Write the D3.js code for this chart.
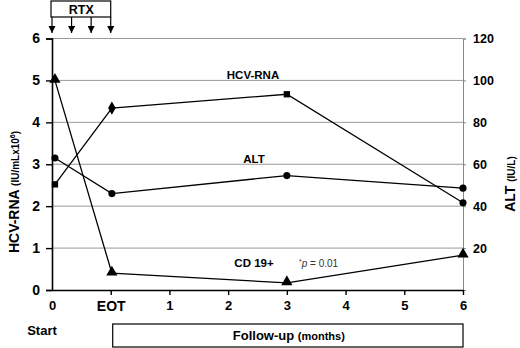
<!DOCTYPE html>
<html>
<head>
<meta charset="utf-8">
<script src="https://cdn.jsdelivr.net/npm/d3@7"></script>
<style>
  body { margin: 0; background: #fff; }
  svg { display: block; font-family: "Liberation Sans", Arial, sans-serif; }
</style>
</head>
<body>
<div id="chart"></div>
<script>
// x positions: 0 = start, 1 = EOT, then months 1..6 at 2..7
const xTickLabels = ["0", "EOT", "1", "2", "3", "4", "5", "6"];
const leftTicks = [0, 1, 2, 3, 4, 5, 6];
const rightTicks = [20, 40, 60, 80, 100, 120];
const timePoints = [0.05, 1.02, 4, 7];
const hcvRna = [2.52, 4.34, 4.67, 2.08];       // IU/mL x10^6 (left)
const hcvShapes = ["square", "diamond", "square", "circle"];
const alt = [63, 46, 54.6, 48.6];              // IU/L (right)
const cd19 = [100, 8, 3.4, 16.6];              // right axis
const rtxDoses = [0, 1 / 3, 2 / 3, 1];

const width = 520, height = 348;
const svg = d3.select('#chart').append('svg')
  .attr('width', width).attr('height', height);

const xScale = d3.scaleLinear().domain([0, 7]).range([52, 463]);
const yLeft = d3.scaleLinear().domain([0, 6]).range([290, 38.5]);
const yRight = d3.scaleLinear().domain([0, 120]).range([290, 38.5]);

// grid lines
svg.append('g').selectAll('line').data(leftTicks.filter(d => d > 0)).join('line')
  .attr('x1', xScale(0)).attr('x2', xScale(7))
  .attr('y1', d => yLeft(d)).attr('y2', d => yLeft(d))
  .attr('stroke', '#9a9a9a').attr('stroke-width', 1);

// left axis
const yAxisL = d3.axisLeft(yLeft).tickValues(leftTicks).tickFormat(d3.format('d'))
  .tickSize(6).tickPadding(6);
const gL = svg.append('g').attr('transform', `translate(${xScale(0)},0)`).call(yAxisL);
gL.select('.domain').attr('stroke', '#000').attr('stroke-width', 1.6);
gL.selectAll('line').attr('stroke', '#000').attr('stroke-width', 1.4);
gL.selectAll('text').attr('font-size', 14).attr('font-weight', 'bold')
  .attr('font-family', '"Liberation Sans", Arial, sans-serif');

// right axis
const yAxisR = d3.axisRight(yRight).tickValues(rightTicks).tickSize(3).tickPadding(7);
const gR = svg.append('g').attr('transform', `translate(${xScale(7)},0)`).call(yAxisR);
gR.select('.domain').attr('stroke', '#888').attr('stroke-width', 1);
gR.selectAll('line').attr('stroke', '#888');
gR.selectAll('text').attr('font-size', 12.5).attr('font-weight', 'bold')
  .attr('font-family', '"Liberation Sans", Arial, sans-serif');

// x axis
const xAxis = d3.axisBottom(xScale).tickValues(d3.range(0, 8))
  .tickFormat(d => xTickLabels[d]).tickSize(5).tickPadding(6).tickSizeOuter(0);
const gX = svg.append('g').attr('transform', `translate(0,${yLeft(0)})`).call(xAxis);
gX.select('.domain').attr('stroke', '#000').attr('stroke-width', 1.6);
gX.selectAll('line').attr('stroke', '#000').attr('stroke-width', 1.4);
gX.selectAll('text').attr('font-size', d => d === 1 ? 14 : 13).attr('font-weight', 'bold')
  .attr('font-family', '"Liberation Sans", Arial, sans-serif');
gX.selectAll('.tick').filter(d => d === 0).select('line').remove();

// axis titles
const tL = svg.append('text')
  .attr('transform', `translate(19,${192}) rotate(-90)`)
  .attr('text-anchor', 'middle').attr('font-weight', 'bold');
tL.append('tspan').attr('font-size', 14).text('HCV-RNA ');
tL.append('tspan').attr('font-size', 10).text('(IU/mLx10');
tL.append('tspan').attr('font-size', 7).attr('dy', -4).text('6');
tL.append('tspan').attr('font-size', 10).attr('dy', 4).text(')');

const tR = svg.append('text')
  .attr('transform', `translate(515,${184}) rotate(-90)`)
  .attr('text-anchor', 'middle').attr('font-weight', 'bold');
tR.append('tspan').attr('font-size', 14).text('ALT ');
tR.append('tspan').attr('font-size', 10).text('(IU/L)');

// lines
const lineL = d3.line().x((d, i) => xScale(timePoints[i])).y(d => yLeft(d));
const lineR = d3.line().x((d, i) => xScale(timePoints[i])).y(d => yRight(d));

svg.append('path').datum(hcvRna).attr('d', lineL)
  .attr('fill', 'none').attr('stroke', '#000').attr('stroke-width', 1.3);
svg.append('path').datum(alt).attr('d', lineR)
  .attr('fill', 'none').attr('stroke', '#000').attr('stroke-width', 1.3);
svg.append('path').datum(cd19).attr('d', lineR)
  .attr('fill', 'none').attr('stroke', '#000').attr('stroke-width', 1.3);

const symbolMap = {
  square: d3.symbol(d3.symbolSquare, 40),
  diamond: d3.symbol(d3.symbolDiamond, 50),
  circle: d3.symbol(d3.symbolCircle, 40),
  triangle: d3.symbol(d3.symbolTriangle, 55)
};

svg.append('g').selectAll('path').data(hcvRna).join('path')
  .attr('transform', (d, i) => `translate(${xScale(timePoints[i])},${yLeft(d)})`)
  .attr('d', (d, i) => symbolMap[hcvShapes[i]]());
svg.append('g').selectAll('path').data(alt).join('path')
  .attr('transform', (d, i) => `translate(${xScale(timePoints[i])},${yRight(d)})`)
  .attr('d', symbolMap.circle());
svg.append('g').selectAll('path').data(cd19).join('path')
  .attr('transform', (d, i) => `translate(${xScale(timePoints[i])},${yRight(d) - 1})`)
  .attr('d', symbolMap.triangle());

// series labels
svg.append('text').attr('x', 253).attr('y', 79).attr('text-anchor', 'middle')
  .attr('font-size', 11.5).attr('font-weight', 'bold').text('HCV-RNA');
svg.append('text').attr('x', 254).attr('y', 163).attr('text-anchor', 'middle')
  .attr('font-size', 11.5).attr('font-weight', 'bold').text('ALT');
svg.append('text').attr('x', 254).attr('y', 267).attr('text-anchor', 'middle')
  .attr('font-size', 11.5).attr('font-weight', 'bold').text('CD 19+');
const pT = svg.append('text').attr('x', 299).attr('y', 267)
  .attr('font-size', 10).attr('fill', '#333');
pT.append('tspan').attr('font-size', 7).attr('dy', -3).text('*');
pT.append('tspan').attr('font-style', 'italic').attr('dy', 3).text('p');
pT.append('tspan').text(' = 0.01');

// RTX box and arrows
svg.append('rect').attr('x', xScale(0) - 1).attr('y', 1)
  .attr('width', xScale(1) - xScale(0) + 1).attr('height', 16)
  .attr('fill', '#fff').attr('stroke', '#000').attr('stroke-width', 1.2);
svg.append('text').attr('x', (xScale(0) + xScale(1)) / 2).attr('y', 14)
  .attr('text-anchor', 'middle').attr('font-size', 12.5).attr('font-weight', 'bold').text('RTX');

svg.append('defs').append('marker').attr('id', 'arrow')
  .attr('viewBox', '0 0 10 10').attr('refX', 10).attr('refY', 5)
  .attr('markerWidth', 6).attr('markerHeight', 6).attr('orient', 'auto')
  .append('path').attr('d', 'M0,0L10,5L0,10Z').attr('fill', '#000');
svg.append('g').selectAll('line').data(rtxDoses).join('line')
  .attr('x1', d => xScale(d)).attr('x2', d => xScale(d))
  .attr('y1', 17).attr('y2', 33)
  .attr('stroke', '#000').attr('stroke-width', 1.2)
  .attr('marker-end', 'url(#arrow)');

// bottom labels
svg.append('text').attr('x', 42).attr('y', 335).attr('text-anchor', 'middle')
  .attr('font-size', 13).attr('font-weight', 'bold').text('Start');
svg.append('rect').attr('x', xScale(1) + 2).attr('y', 324)
  .attr('width', xScale(7) - xScale(1) - 2).attr('height', 23)
  .attr('fill', '#fff').attr('stroke', '#000').attr('stroke-width', 1.2);
const fT = svg.append('text').attr('x', (xScale(1) + xScale(7)) / 2 + 2).attr('y', 340)
  .attr('text-anchor', 'middle').attr('font-weight', 'bold');
fT.append('tspan').attr('font-size', 13).text('Follow-up ');
fT.append('tspan').attr('font-size', 11).text('(months)');
</script>
</body>
</html>
